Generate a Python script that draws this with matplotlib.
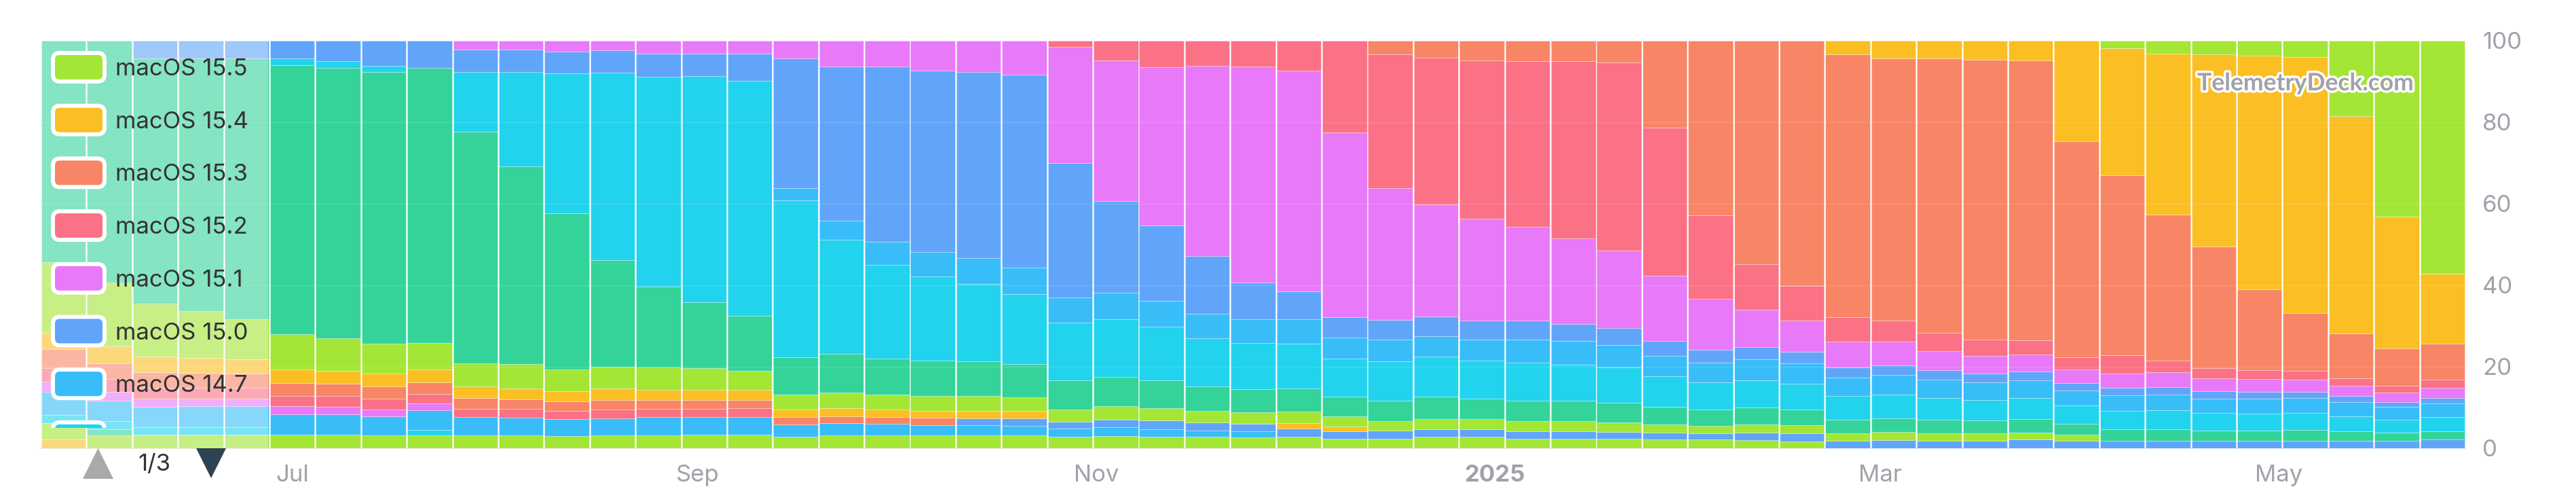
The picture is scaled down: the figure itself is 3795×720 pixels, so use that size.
import datetime as dt

import matplotlib
matplotlib.use("Agg")
import matplotlib.pyplot as plt
import matplotlib.dates as mdates
import matplotlib.patheffects as pe
from matplotlib.patches import FancyBboxPatch, Polygon, Rectangle
from matplotlib.transforms import IdentityTransform, Bbox

plt.rcParams['font.family'] = ['Inter', 'DejaVu Sans']

W, H = 3795, 720

# weekly buckets (Mondays)
weeks = [dt.date(2024, 5, 27) + dt.timedelta(weeks=i) for i in range(53)]

# share of users per week, in percent
macos_15_5 = [0] * 45 + [1.8, 3.1, 3.3, 3.6, 4.0, 18.4, 43.1, 57.2]
macos_15_4 = [0] * 39 + [3.4, 4.4, 4.4, 4.7, 4.9, 24.6, 31.2, 39.6, 47.1, 57.2, 62.8, 53.3, 32.4, 17.1]
macos_15_3 = [0] * 29 + [3.4, 4.1, 4.8, 5.0, 5.0, 5.4, 21.4, 42.8, 54.9, 60.1, 64.5, 64.3, 67.3, 68.6,
                         68.6, 52.9, 44.1, 35.8, 29.7, 19.9, 14.2, 11.1, 9.0, 8.9]
macos_15_2 = [0] * 22 + [1.5, 4.9, 6.5, 6.1, 6.4, 7.3, 22.4, 32.7, 36.1, 38.9, 40.6, 43.6, 46.1, 36.3,
                         20.4, 11.1, 8.5, 6.0, 5.2, 4.4, 3.9, 3.6, 3.0, 4.5, 2.9, 2.6, 2.2, 2.2, 1.8,
                         1.8, 2.0]
macos_15_1 = [0] * 9 + [2.1, 2.1, 2.7, 2.3, 3.1, 3.1, 3.1, 4.4, 6.4, 6.3, 7.3, 7.7, 8.3, 28.5, 34.4,
                        38.8, 46.8, 52.9, 54.2, 45.3, 32.3, 27.4, 24.9, 23.0, 20.9, 19.1, 15.9, 12.5,
                        9.2, 7.8, 6.2, 5.7, 4.7, 4.4, 4.2, 3.4, 3.5, 3.6, 3.1, 3.1, 2.9, 2.4, 2.3, 2.5]
macos_15_0 = [0] * 2 + [4.4, 4.4, 4.4, 4.3, 5.0, 6.1, 6.7, 5.5, 5.5, 5.3, 5.5, 5.7, 5.6, 6.8, 31.7,
                        37.8, 43.1, 44.5, 45.6, 47.4, 33.0, 22.5, 18.6, 14.2, 9.0, 6.9, 5.0, 4.8, 4.9,
                        4.7, 4.7, 4.3, 4.1, 3.7, 3.3, 3.1, 2.8, 2.6, 2.4, 2.3, 2.1, 2.2, 1.8, 1.8,
                        1.8, 1.8, 1.6, 1.6, 1.5, 1.1, 1.3]
macos_14_7 = [0] * 16 + [3.1, 4.7, 5.6, 6.0, 6.3, 6.5, 6.1, 6.5, 6.4, 5.9, 5.8, 5.9, 5.2, 5.4, 5.0,
                         5.1, 5.7, 5.7, 5.6, 5.0, 4.7, 5.1, 5.0, 4.4, 4.9, 4.5, 4.4, 4.3, 3.7, 3.8,
                         3.8, 3.5, 3.7, 3.6, 3.6, 3.2, 3.3]
macos_14_6 = [0] * 5 + [1.7, 1.7, 1.5, 0, 14.8, 23.3, 34.5, 46.1, 51.5, 55.4, 57.7, 38.4, 27.9, 23.0,
                        20.7, 19.1, 17.2, 14.2, 14.2, 13.2, 11.9, 11.4, 11.1, 9.4, 9.6, 9.9, 9.3, 9.3,
                        9.0, 8.6, 7.5, 6.7, 6.7, 6.3, 5.9, 5.7, 5.4, 5.0, 5.2, 4.4, 4.6, 4.7, 4.4,
                        4.2, 4.2, 3.7, 3.1, 3.5]
macos_14_5 = [54.3, 59.3, 60.1, 62.0, 63.9, 66.0, 66.4, 66.8, 67.5, 56.8, 48.4, 38.3, 26.2, 19.9,
              16.3, 13.5, 9.3, 9.5, 8.8, 8.6, 8.4, 8.2, 7.1, 7.1, 6.7, 6.0, 5.7, 5.6, 4.8, 5.0,
              5.4, 5.0, 5.1, 5.0, 4.8, 4.3, 4.0, 4.1, 3.8, 3.4, 3.4, 3.3, 3.1, 3.2, 2.7, 2.8,
              2.9, 2.5, 2.5, 2.6, 2.3, 2.1, 2.1]
macos_14_4 = [17.4, 15.7, 13.0, 11.5, 9.9, 8.8, 7.9, 7.3, 6.5, 5.7, 6.0, 5.4, 5.4, 5.4, 5.2, 4.7,
              3.6, 3.8, 3.7, 3.7, 3.7, 3.4, 3.0, 3.4, 3.1, 2.9, 2.8, 2.8, 2.4, 2.4, 2.5, 2.5,
              2.5, 2.5, 2.4, 2.1, 1.9, 2.1, 2.1, 1.8, 2.0, 1.8, 1.8, 1.8, 1.5] + [0] * 8
macos_14_3 = [4.0, 4.1, 3.8, 3.6, 3.4, 3.3, 3.2, 3.1, 3.1, 2.7, 2.7, 2.5, 2.7, 2.6, 2.6, 2.4, 1.8,
              2.0, 1.8, 1.6, 1.8, 1.8, 0, 0, 0, 0, 0, 1.3, 1.3] + [0] * 24
macos_14_2 = [4.7, 3.8, 3.8, 3.7, 3.5, 3.2, 3.1, 3.0, 2.8, 2.7, 2.4, 2.3, 2.4, 2.2, 2.2, 2.1, 1.8,
              1.8, 1.7, 1.8] + [0] * 33
macos_14_1 = [3.3, 3.2, 2.8, 2.8, 2.8, 2.5, 2.7, 2.7, 2.4, 2.1, 2.1, 2.1, 2.1, 2.0, 1.9, 2.1] + [0] * 37
macos_14_0 = [2.5, 2.1, 1.9, 1.8, 1.8, 1.9, 1.8, 1.6, 1.7] + [0] * 44
macos_13_7 = [0] * 20 + [1.7, 1.8, 1.6, 1.9, 2.1, 2.0, 1.9, 2.1, 1.8, 1.9, 1.9, 1.9, 1.8, 1.8, 1.7,
                         1.7, 1.5, 1.8, 1.9, 1.8, 2.0, 1.9, 1.9, 2.1, 1.8, 1.8, 1.8, 1.8, 1.8, 1.9,
                         1.8, 1.8, 2.1]
macos_13_6 = [5.7, 5.1, 5.0, 5.1, 5.1, 5.0, 4.9, 4.7, 4.8, 4.4, 4.4, 4.1, 4.2, 4.4, 4.4, 4.3, 3.1,
              2.9, 2.8, 2.5, 2.5, 2.4, 2.1, 2.1, 1.9, 1.5, 1.5] + [0] * 26
macos_13_5 = [2.0, 1.9, 1.8, 1.8, 1.8, 0, 0, 0, 1.3] + [0] * 44
macos_13_4 = [0, 1.5] + [0] * 51
macos_13_3 = [4.0, 3.2, 3.4, 3.4, 3.4, 3.4, 3.4, 3.2, 3.2, 3.2, 3.1, 3.0, 3.2, 3.2, 3.3, 3.4, 2.8,
              3.2, 3.2, 3.2, 3.2, 3.1, 2.8, 3.0, 2.8, 2.8, 2.6, 2.8, 2.3, 2.4, 2.8, 2.8, 2.3, 2.3,
              2.3, 2.1, 2.1, 2.0, 1.7] + [0] * 14
macos_13_2 = [2.1] + [0] * 52

names = ["macOS 15.5", "macOS 15.4", "macOS 15.3", "macOS 15.2", "macOS 15.1", "macOS 15.0",
         "macOS 14.7", "macOS 14.6", "macOS 14.5", "macOS 14.4", "macOS 14.3", "macOS 14.2",
         "macOS 14.1", "macOS 14.0", "macOS 13.7", "macOS 13.6", "macOS 13.5", "macOS 13.4",
         "macOS 13.3", "macOS 13.2"]
data = [macos_15_5, macos_15_4, macos_15_3, macos_15_2, macos_15_1, macos_15_0, macos_14_7,
        macos_14_6, macos_14_5, macos_14_4, macos_14_3, macos_14_2, macos_14_1, macos_14_0,
        macos_13_7, macos_13_6, macos_13_5, macos_13_4, macos_13_3, macos_13_2]

palette = ["#a3e635", "#fbbf24", "#f88566", "#fb7185", "#e879f9",
           "#60a5fa", "#38bdf8", "#22d3ee", "#34d399"]
colors = [palette[i % len(palette)] for i in range(len(names))]

tick_dates = [dt.date(2024, 7, 1), dt.date(2024, 9, 1), dt.date(2024, 11, 1),
              dt.date(2025, 1, 1), dt.date(2025, 3, 1), dt.date(2025, 5, 1)]
tick_labels = ["Jul", "Sep", "Nov", "2025", "Mar", "May"]

# normalise every week to 100 %
totals = [sum(col) for col in zip(*data)]
shares = [[v / t * 100 for v, t in zip(s, totals)] for s in data]

fig = plt.figure(figsize=(W / 100, H / 100), dpi=100)
ax = fig.add_axes([60 / W, 1 - 660 / H, 3572 / W, 600 / H])

x = mdates.date2num(weeks)
bottom = [0.0] * len(weeks)
for name, vals, color in reversed(list(zip(names, shares, colors))):
    idx = [i for i, v in enumerate(vals) if v > 0]
    ax.bar([x[i] for i in idx], [vals[i] for i in idx], bottom=[bottom[i] for i in idx],
           width=6.8, color=color, edgecolor=(1, 1, 1, 0.35), linewidth=0.6, zorder=2)
    bottom = [b + v for b, v in zip(bottom, vals)]

for g in [20, 40, 60, 80]:
    ax.axhline(g, color="white", alpha=0.15, lw=1, zorder=3)
ax.axhline(0, color="#ececec", lw=1.5, zorder=1, clip_on=False)

ax.set_xlim(x[0] - 3.5, x[-1] + 3.5)
ax.set_ylim(0, 100)
ax.set_xticks(mdates.date2num(tick_dates))
ax.set_xticklabels(tick_labels)
ax.get_xticklabels()[3].set_fontweight("bold")
ax.yaxis.tick_right()
ax.set_yticks([0, 20, 40, 60, 80, 100])
ax.tick_params(axis="both", length=0, labelsize=25, colors="#a1a1aa")
ax.tick_params(axis="x", pad=17)
ax.tick_params(axis="y", pad=18)
for s in ax.spines.values():
    s.set_visible(False)

# legend panel fades the first weeks
ax.add_patch(Rectangle((0, 0), (395 - 60) / 3572, 1, transform=ax.transAxes,
                       facecolor="white", alpha=0.4, lw=0, zorder=4))

ident = IdentityTransform()
clip = Bbox([[0, H - 630], [420, H]])
for k in range(8):
    cy = 99 + 77.7 * k
    sw = FancyBboxPatch((78, H - cy - 21), 76, 42, boxstyle="round,pad=0,rounding_size=10",
                        facecolor=colors[k], edgecolor="white", lw=4.3, transform=ident,
                        zorder=5)
    sw.set_clip_box(clip)
    fig.add_artist(sw)
    t = fig.text(170, H - cy - 12, names[k], transform=ident, fontsize=25, color="#333333",
                 va="baseline", ha="left", zorder=6)
    t.set_clip_box(clip)
    t.set_clip_on(True)

# legend pager
fig.add_artist(Polygon([(122, H - 705), (167, H - 705), (144.5, H - 660)], closed=True,
                       facecolor="#a9a9a9", lw=0, transform=ident))
fig.add_artist(Polygon([(289, H - 660), (333, H - 660), (311, H - 704)], closed=True,
                       facecolor="#2e4251", lw=0, transform=ident))
fig.text(203, H - 693, "1/3", transform=ident, fontsize=25, color="#333333", va="baseline")

# watermark
fig.text(3237, H - 133, "TelemetryDeck.com", transform=ident, fontsize=25.5, fontweight="bold",
         family=["Lato", "DejaVu Sans"], color="#a1a1aa", va="baseline", ha="left", zorder=7,
         path_effects=[pe.withStroke(linewidth=5, foreground="white")])

fig.savefig("out.png", dpi=100)
